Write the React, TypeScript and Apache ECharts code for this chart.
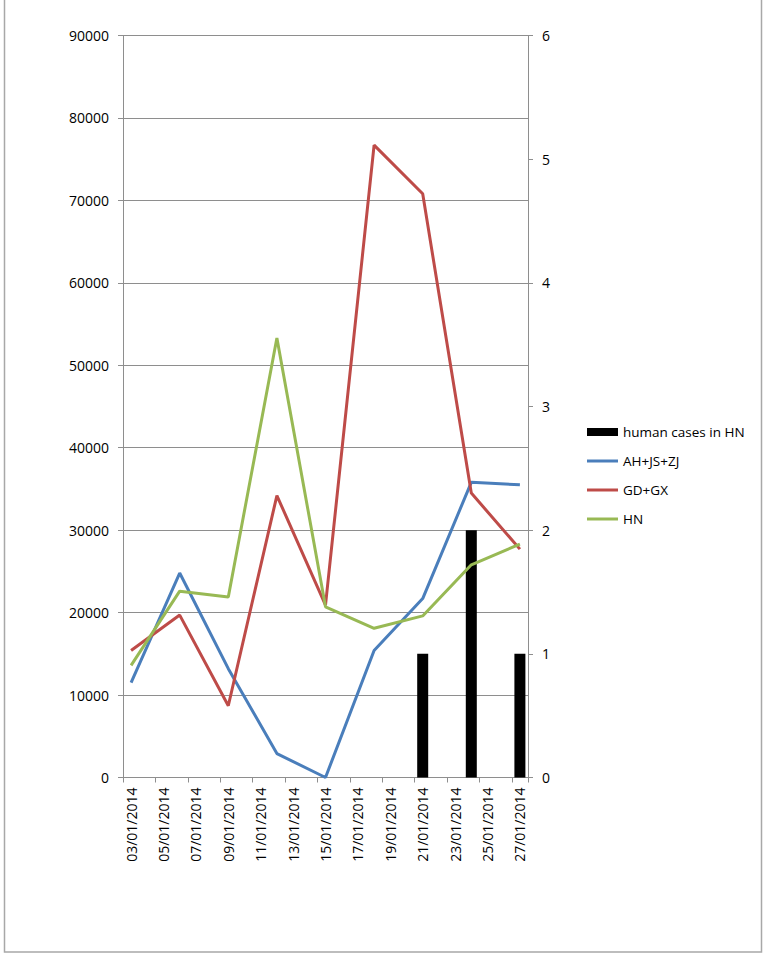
import React, { useEffect, useRef } from "react";
import * as echarts from "echarts";

const days = [
  "03/01/2014", "04/01/2014", "05/01/2014", "06/01/2014", "07/01/2014",
  "08/01/2014", "09/01/2014", "10/01/2014", "11/01/2014", "12/01/2014",
  "13/01/2014", "14/01/2014", "15/01/2014", "16/01/2014", "17/01/2014",
  "18/01/2014", "19/01/2014", "20/01/2014", "21/01/2014", "22/01/2014",
  "23/01/2014", "24/01/2014", "25/01/2014", "26/01/2014", "27/01/2014",
];

const sampleDates = [
  "03/01/2014", "06/01/2014", "09/01/2014", "12/01/2014", "15/01/2014",
  "18/01/2014", "21/01/2014", "24/01/2014", "27/01/2014",
];
const ahJsZj = [11500, 24800, 13200, 2900, 0, 15400, 21700, 35800, 35500];
const gdGx = [15400, 19700, 8700, 34200, 20900, 76700, 70800, 34500, 27700];
const hnPrice = [13600, 22600, 21900, 53300, 20700, 18100, 19600, 25800, 28300];

const caseDates = ["21/01/2014", "24/01/2014", "27/01/2014"];
const humanCases = [1, 2, 1];

const seriesNames = ["human cases in HN", "AH+JS+ZJ", "GD+GX", "HN"];
const lineColors = ["#4a7ebb", "#be4b48", "#98b954"];

function spread(dates: string[], vals: number[]) {
  return days.map((d) => {
    const i = dates.indexOf(d);
    return i >= 0 ? vals[i] : null;
  });
}

const FONT = "Open Sans";
const GRID_COLOR = "#8e8e8e";

export default function App() {
  const ref = useRef<HTMLDivElement>(null);
  useEffect(() => {
    document.body.style.margin = "0";
    const chart = echarts.init(ref.current!, null, { renderer: "svg" });
    const legendText = { fontFamily: FONT, fontSize: 13.5, color: "#000", lineHeight: 14 };
    chart.setOption({
      animation: false,
      backgroundColor: "#ffffff",
      textStyle: { fontFamily: FONT },
      graphic: [
        {
          type: "rect",
          shape: { x: 4.5, y: -4, width: 757, height: 956 },
          style: { fill: "none", stroke: "#a8a8a8", lineWidth: 1.5 },
          silent: true,
        },
      ],
      grid: { left: 123, right: 238, top: 35.5, bottom: 179.5 },
      legend: [
        {
          orient: "vertical",
          left: 582,
          top: 420,
          itemWidth: 31,
          itemHeight: 8,
          itemGap: 15,
          icon: "rect",
          data: [seriesNames[0]],
          textStyle: legendText,
        },
        {
          orient: "vertical",
          left: 582,
          top: 449,
          itemWidth: 31,
          itemHeight: 3,
          itemGap: 15,
          icon: "rect",
          data: seriesNames.slice(1),
          textStyle: legendText,
        },
      ],
      xAxis: {
        type: "category",
        data: days,
        boundaryGap: true,
        axisLine: { lineStyle: { color: GRID_COLOR, width: 1 } },
        axisTick: { show: true, interval: 1, length: 5, lineStyle: { color: GRID_COLOR } },
        axisLabel: {
          interval: 1,
          rotate: 90,
          margin: 10,
          fontFamily: FONT,
          fontSize: 14,
          color: "#000",
        },
        splitLine: { show: false },
      },
      yAxis: [
        {
          type: "value",
          min: 0,
          max: 90000,
          interval: 10000,
          axisLine: { show: true, lineStyle: { color: GRID_COLOR } },
          axisTick: { show: true, length: 5, lineStyle: { color: GRID_COLOR } },
          axisLabel: {
            margin: 14,
            fontFamily: FONT,
            fontSize: 14,
            color: "#000",
            formatter: (v: number) => String(v),
          },
          splitLine: { show: true, lineStyle: { color: GRID_COLOR, width: 1 } },
        },
        {
          type: "value",
          min: 0,
          max: 6,
          interval: 1,
          position: "right",
          axisLine: { show: true, lineStyle: { color: GRID_COLOR } },
          axisTick: { show: true, length: 5, lineStyle: { color: GRID_COLOR } },
          axisLabel: {
            margin: 14,
            fontFamily: FONT,
            fontSize: 14,
            color: "#000",
            formatter: (v: number) => String(v),
          },
          splitLine: { show: false },
        },
      ],
      series: [
        {
          name: seriesNames[0],
          type: "bar",
          yAxisIndex: 1,
          barWidth: 11,
          data: spread(caseDates, humanCases),
          itemStyle: { color: "#000000" },
        },
        {
          name: seriesNames[1],
          type: "line",
          data: spread(sampleDates, ahJsZj),
          connectNulls: true,
          symbol: "none",
          lineStyle: { color: lineColors[0], width: 3 },
          itemStyle: { color: lineColors[0] },
        },
        {
          name: seriesNames[2],
          type: "line",
          data: spread(sampleDates, gdGx),
          connectNulls: true,
          symbol: "none",
          lineStyle: { color: lineColors[1], width: 3 },
          itemStyle: { color: lineColors[1] },
        },
        {
          name: seriesNames[3],
          type: "line",
          data: spread(sampleDates, hnPrice),
          connectNulls: true,
          symbol: "none",
          lineStyle: { color: lineColors[2], width: 3 },
          itemStyle: { color: lineColors[2] },
        },
      ],
    });
    return () => chart.dispose();
  }, []);
  return <div ref={ref} style={{ width: 766, height: 957 }} />;
}
